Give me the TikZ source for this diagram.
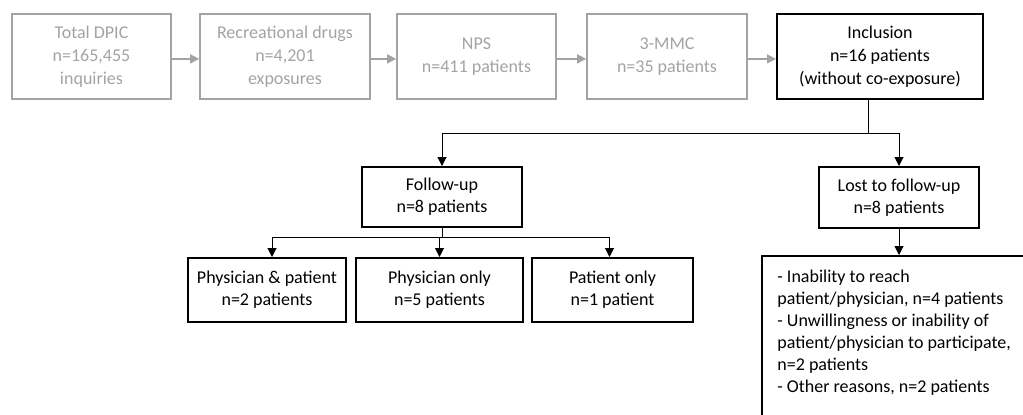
\documentclass[tikz,border=0pt]{standalone}
\usepackage{fontspec}
\setmainfont{Carlito}
\usetikzlibrary{arrows.meta}
\definecolor{lg}{HTML}{A3A3A3}
\begin{document}
\begin{tikzpicture}[x=0.5pt,y=-0.5pt,
  txt/.style={font=\fontsize{9}{11}\selectfont},
  toptxt/.style={font=\fontsize{9}{11.5}\selectfont},
  gbox/.style={toptxt,draw=lg,line width=0.8pt,text=lg,align=center,inner sep=0pt},
  bbox/.style={txt,draw=black,line width=1pt,align=center,inner sep=0pt},
  garr/.style={draw=lg,line width=0.7pt,-{Triangle[length=4.5pt,width=4.5pt]}},
  barr/.style={draw=black,line width=0.5pt,-{Triangle[length=4.5pt,width=4.5pt]}},
  bline/.style={draw=black,line width=0.5pt}]
\useasboundingbox (0,0) rectangle (1023,414);
% top row
\node[gbox,minimum width=79.5pt,minimum height=42.5pt] (b1) at (91.5,56.5) {Total DPIC\\n=165,455\\inquiries};
\node[gbox,minimum width=85pt,minimum height=42.5pt] (b2) at (285,56.5) {Recreational drugs\\n=4,201\\exposures};
\node[gbox,minimum width=79.5pt,minimum height=42.5pt] (b3) at (476.5,56.5) {NPS\\n=411 patients};
\node[gbox,minimum width=80pt,minimum height=42.5pt] (b4) at (667,56.5) {3-MMC\\n=35 patients};
\node[bbox,toptxt,minimum width=103pt,minimum height=42.5pt] (b5) at (880,56.5) {Inclusion\\n=16 patients\\(without co-exposure)};
\draw[garr] ([yshift=-1.2pt]b1.east) -- ([yshift=-1.2pt]b2.west);
\draw[garr] ([yshift=-1.2pt]b2.east) -- ([yshift=-1.2pt]b3.west);
\draw[garr] ([yshift=-1.2pt]b3.east) -- ([yshift=-1.2pt]b4.west);
\draw[garr] ([yshift=-1.2pt]b4.east) -- ([yshift=-1.2pt]b5.west);
% second row
\node[bbox,minimum width=80pt,minimum height=30pt] (follow) at (442,197) {Follow-up\\n=8 patients};
\node[bbox,minimum width=80pt,minimum height=30.5pt] (lost) at (899,197.5) {Lost to follow-up\\n=8 patients};
\coordinate (split) at (868,133);
\draw[bline] (b5.south -| split) -- (split);
\draw[barr] (split) -| (follow);
\draw[barr] (split) -| (lost);
% third row
\node[bbox,minimum width=79pt,minimum height=32pt] (pp) at (267,290) {Physician \& patient\\n=2 patients};
\node[bbox,minimum width=83.5pt,minimum height=32pt] (po) at (439.5,290) {Physician only\\n=5 patients};
\node[bbox,minimum width=80.5pt,minimum height=32pt] (pa) at (612.5,290) {Patient only\\n=1 patient};
\coordinate (split2) at (442,237);
\draw[bline] (follow.south) -- (follow.south |- split2);
\draw[barr] (split2) -| ([xshift=2.5pt]pp.north);
\draw[barr] (split2) -| (po);
\draw[barr] (split2) -| ([xshift=-1.5pt]pa.north);
% reasons box (cut by the page edge)
\node[draw=black,line width=1pt,anchor=north west,minimum width=145pt,minimum height=95pt,inner sep=0pt] (reasons) at (761,255) {};
\node[txt,anchor=north west,align=left,inner sep=0pt] (reasonstext) at (777,270) {- Inability to reach\\patient/physician, n=4 patients\\- Unwillingness or inability of\\patient/physician to participate,\\n=2 patients\\- Other reasons, n=2 patients};
\draw[barr] (lost.south) -- (lost.south |- reasons.north);
\end{tikzpicture}
\end{document}
